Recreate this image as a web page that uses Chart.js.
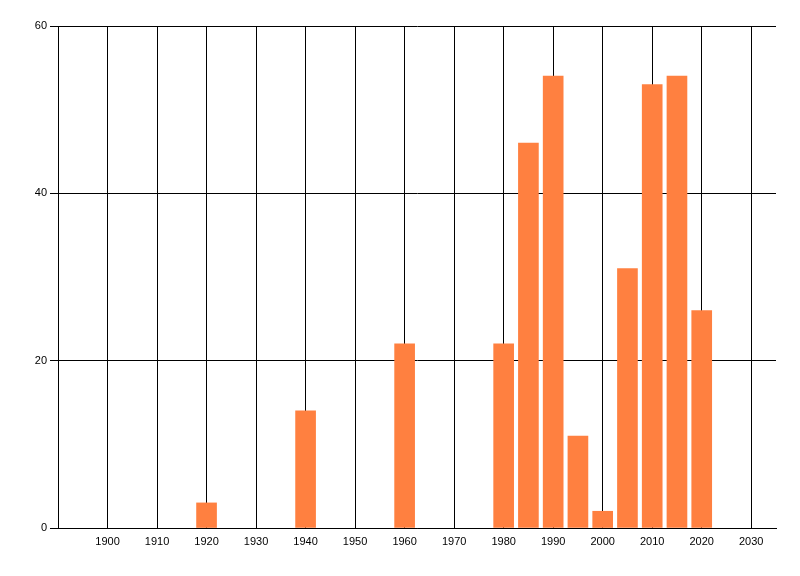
<!DOCTYPE html>
<html>
<head>
<meta charset="utf-8">
<script src="https://cdn.jsdelivr.net/npm/chart.js@4"></script>
<style>
  html, body { margin: 0; padding: 0; background: #fff; }
  #wrap { width: 800px; height: 576px; }
</style>
</head>
<body>
<div id="wrap"><canvas id="chart" width="800" height="576"></canvas></div>
<script>
// values
const years = [1920, 1940, 1960, 1980, 1985, 1990, 1995, 2000, 2005, 2010, 2015, 2020];
const counts = [3, 14, 22, 22, 46, 54, 11, 2, 31, 53, 54, 26];
const xTicks = [1900, 1910, 1920, 1930, 1940, 1950, 1960, 1970, 1980, 1990, 2000, 2010, 2020, 2030];
const yTicks = [0, 20, 40, 60];

const barColor = '#FF8040';
const labelFont = { family: 'Liberation Sans, Arial, sans-serif', size: 11 };

new Chart(document.getElementById('chart'), {
    type: 'bar',
    data: {
        datasets: [{
            data: years.map((y, i) => ({ x: y, y: counts[i] })),
            backgroundColor: barColor,
            borderWidth: 0,
            barThickness: 20
        }]
    },
    options: {
        responsive: false,
        animation: false,
        devicePixelRatio: 1,
        layout: { padding: { left: 0, right: 24, top: 26, bottom: 0 } },
        plugins: { legend: { display: false }, tooltip: { enabled: false } },
        scales: {
            x: {
                type: 'linear',
                min: 1890,
                max: 2035,
                offset: false,
                afterBuildTicks: s => { s.ticks = xTicks.map(v => ({ value: v })); },
                afterFit: s => { s.height = 48; },
                grid: { color: '#000', lineWidth: 1, drawTicks: false, offset: false },
                border: { color: '#000', width: 1 },
                ticks: {
                    color: '#000', font: labelFont, padding: 7, maxRotation: 0, autoSkip: false,
                    callback: v => String(v)
                }
            },
            y: {
                min: 0,
                max: 60,
                afterBuildTicks: s => { s.ticks = yTicks.map(v => ({ value: v })); },
                afterFit: s => { s.width = 58; },
                grid: { color: '#000', lineWidth: 1, tickLength: 8 },
                border: { color: '#000', width: 1 },
                ticks: { color: '#000', font: labelFont, padding: 3 }
            }
        }
    }
});
</script>
</body>
</html>
